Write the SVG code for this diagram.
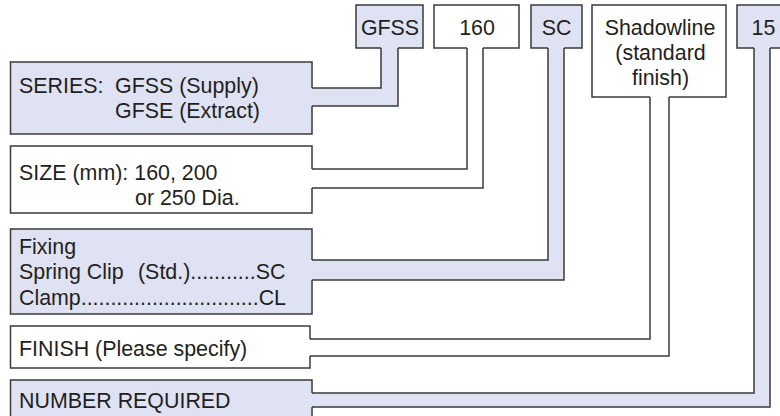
<svg xmlns="http://www.w3.org/2000/svg" width="780" height="416" viewBox="0 0 780 416">
<style>
.b{fill:#dfe2f2;stroke:#3a3a3a;stroke-width:1.5}
.w{fill:#ffffff;stroke:#3a3a3a;stroke-width:1.5}
.fb{fill:#dfe2f2;stroke:none}
.fw{fill:#ffffff;stroke:none}
.ln{fill:none;stroke:#3a3a3a;stroke-width:1.5;stroke-linejoin:miter}
text{font-family:"Liberation Sans",Arial,Helvetica,sans-serif;font-size:21.4px;fill:#231f20}
.m{text-anchor:middle}
</style>
<rect width="780" height="416" fill="#ffffff"/>
<g id="top-gfss"><rect class="b" x="356" y="5" width="67" height="43"/><text class="m" x="390" y="34.5">GFSS</text></g>
<g id="top-160"><rect class="w" x="434" y="5" width="85" height="43"/><text class="m" x="477" y="34.5">160</text></g>
<g id="top-sc"><rect class="b" x="531" y="5" width="51" height="43"/><text class="m" x="556.5" y="34.5">SC</text></g>
<g id="top-shadowline"><rect class="w" x="592" y="5" width="134" height="92"/><text class="m" x="660" y="34.5">Shadowline</text><text class="m" x="660.5" y="59.5">(standard</text><text class="m" x="660.5" y="84.5">finish)</text></g>
<g id="top-15"><rect class="b" x="737" y="5" width="60" height="43"/><text class="m" x="763.5" y="34.5">15</text></g>
<g id="series"><rect class="b" x="10.5" y="62" width="301.5" height="72"/><text x="19" y="93">SERIES:</text><text x="115" y="93">GFSS (Supply)</text><text x="115" y="118">GFSE (Extract)</text></g>
<g id="size"><rect class="w" x="10.5" y="146" width="301.5" height="67"/><text x="19" y="179.5">SIZE (mm): 160, 200</text><text x="135" y="204.5">or 250 Dia.</text></g>
<g id="fixing"><rect class="b" x="10.5" y="229" width="301.5" height="85"/><text x="19" y="253.5">Fixing</text><text x="19" y="279">Spring Clip</text><text x="138" y="279">(Std.)...........SC</text><text x="19" y="304.5" textLength="267" lengthAdjust="spacing">Clamp..............................CL</text></g>
<g id="finish"><rect class="w" x="10.5" y="326" width="299.5" height="42"/><text x="19" y="356">FINISH (Please specify)</text></g>
<g id="number"><rect class="b" x="10.5" y="380" width="301.5" height="50"/><text x="19" y="407.5">NUMBER REQUIRED</text></g>
<g id="connectors">
<path class="fb" d="M381,47 H398 V106 H311 V88 H381 Z"/>
<path class="fw" d="M467,47 H483 V188 H311 V169 H467 Z"/>
<path class="fb" d="M548,47 H564 V280 H311 V260 H548 Z"/>
<path class="fw" d="M650,96 H669 V356 H309 V339 H650 Z"/>
<path class="fb" d="M754,47 H770 V407 H311 V393 H754 Z"/>
<path class="ln" d="M398,48 V106 H312 M381,48 V88 H312"/>
<path class="ln" d="M483,48 V188 H312 M467,48 V169 H312"/>
<path class="ln" d="M564,48 V280 H312 M548,48 V260 H312"/>
<path class="ln" d="M669,97 V356 H310 M650,97 V339 H310"/>
<path class="ln" d="M770,48 V407 H312 M754,48 V393 H312"/>
</g>
</svg>
